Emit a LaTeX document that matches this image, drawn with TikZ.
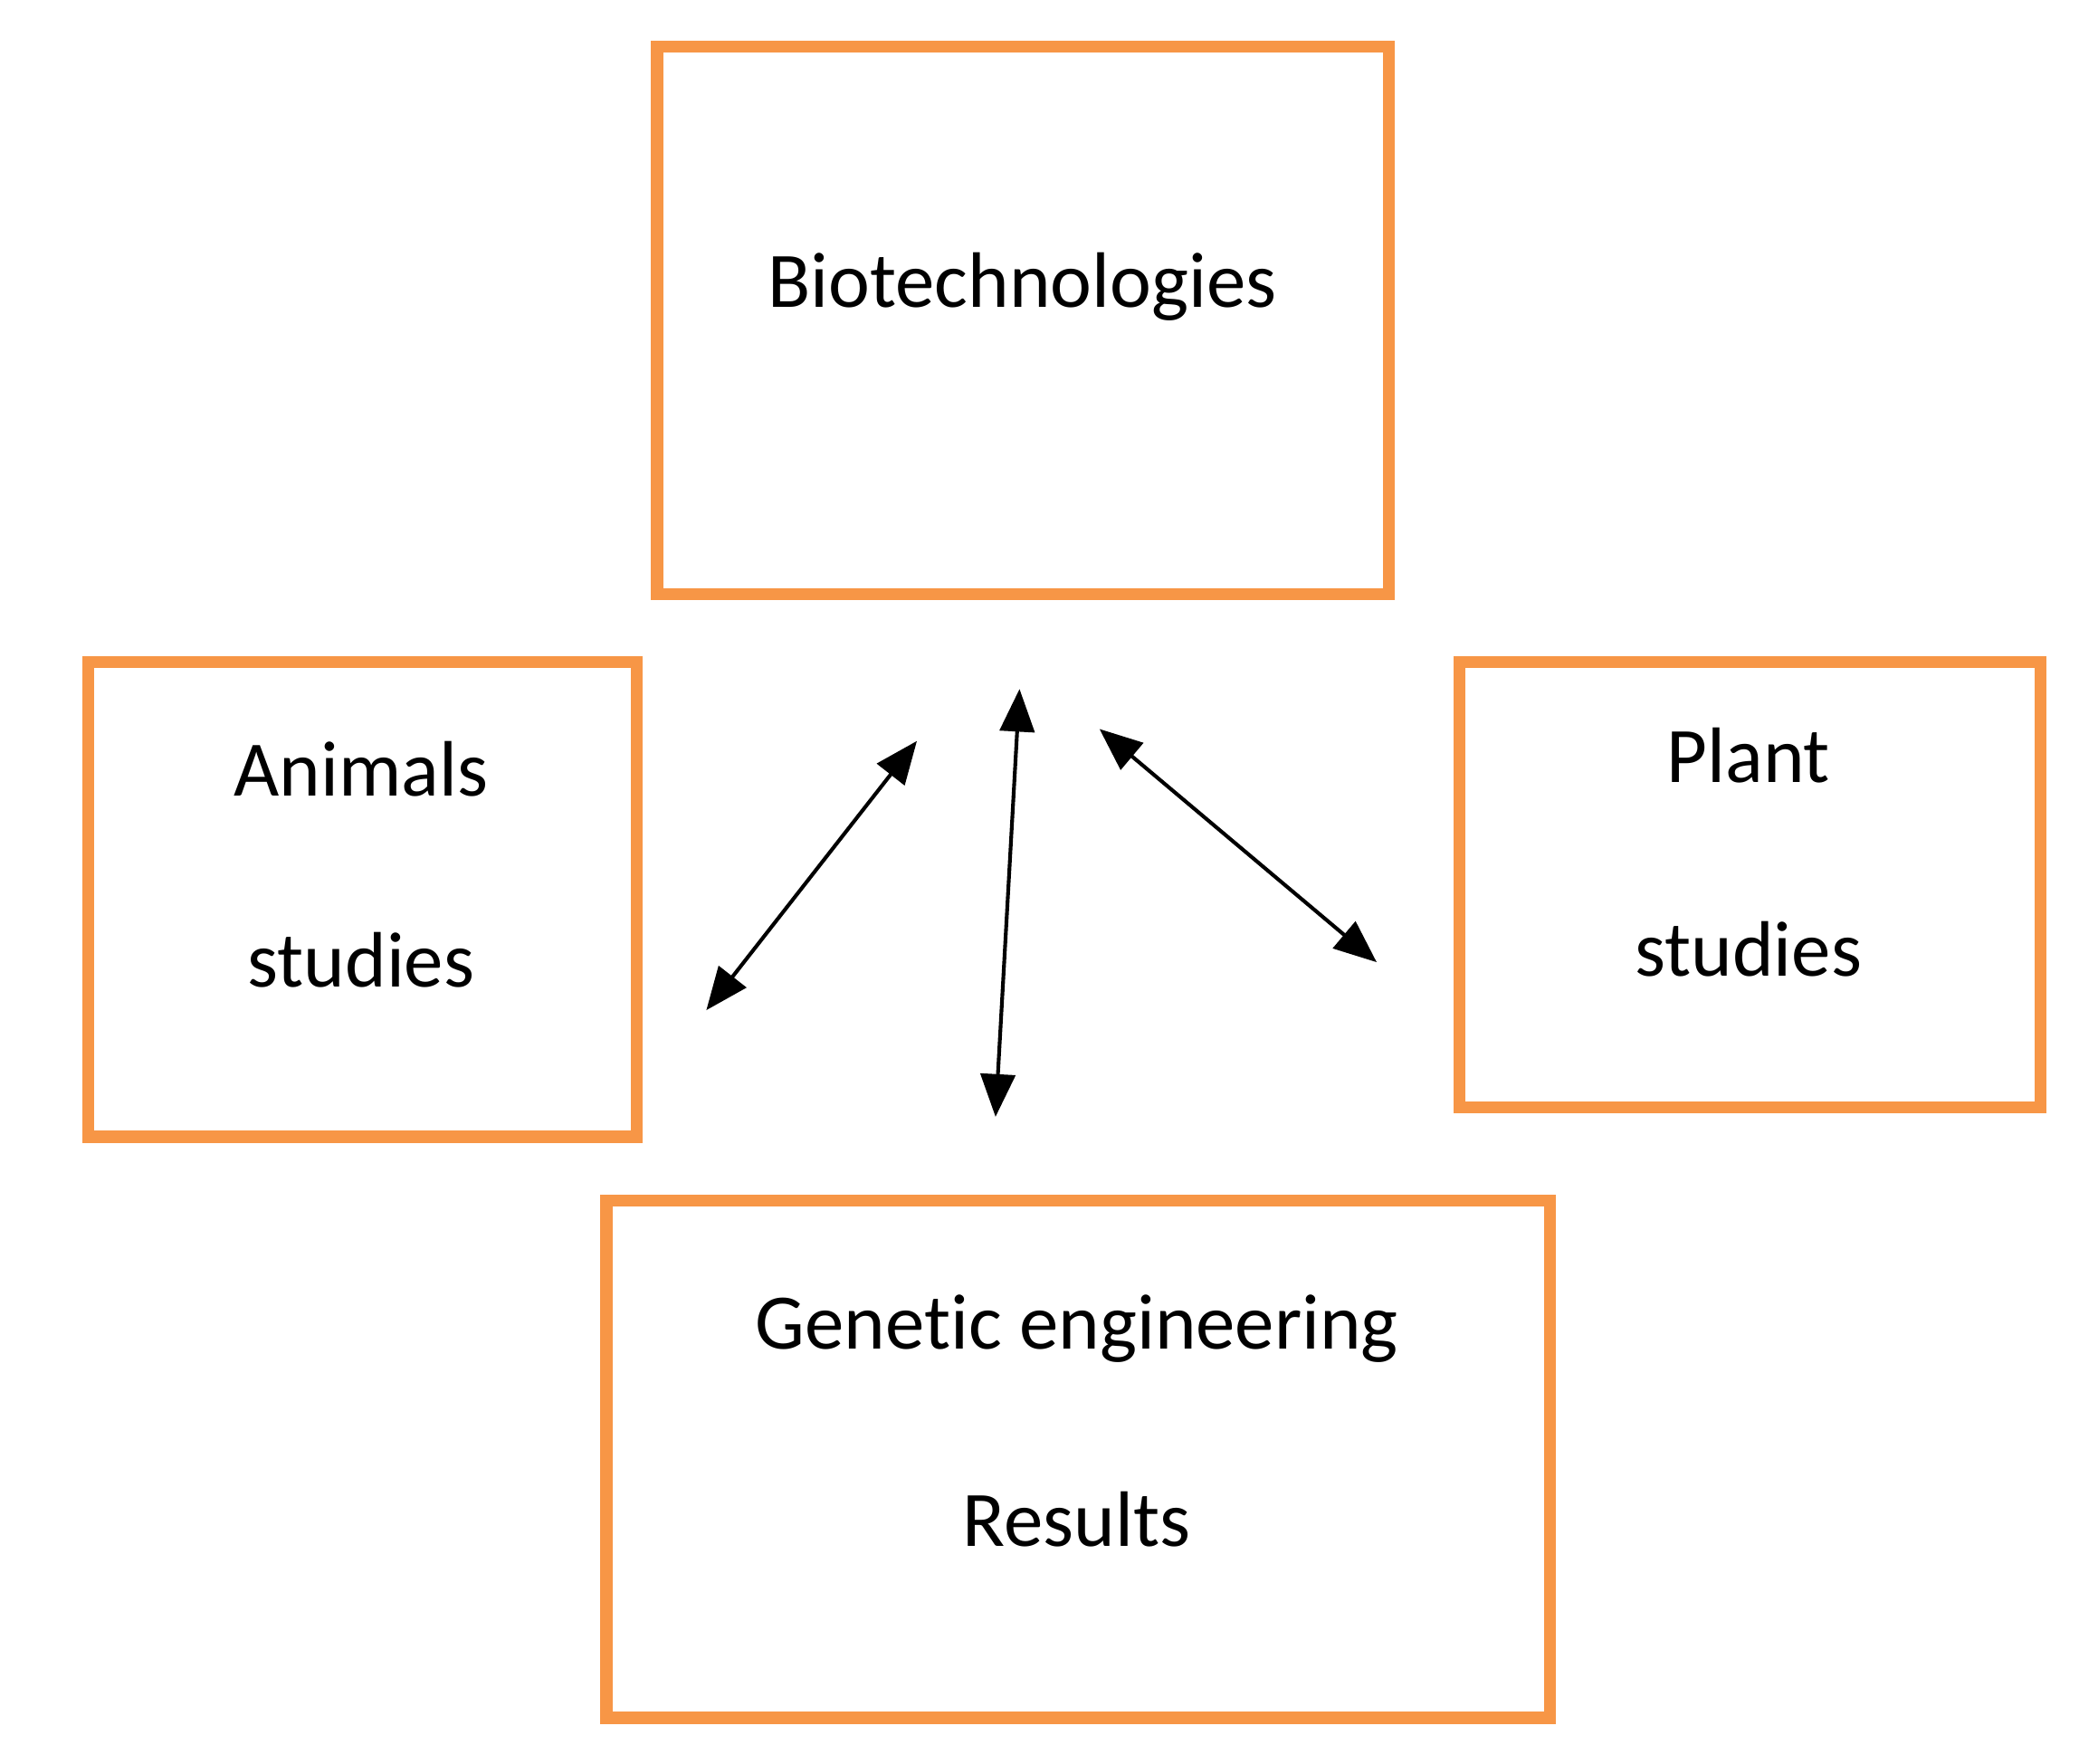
\documentclass[tikz,border=0pt]{standalone}
\usepackage{fontspec}
\setmainfont[RawFeature=-liga]{Carlito}
\usetikzlibrary{arrows.meta}
\definecolor{boxor}{HTML}{F79646}
\begin{document}
\begin{tikzpicture}[x=1pt,y=-1pt,
  box/.style={draw=boxor,line width=9pt},
  lbl/.style={font=\fontsize{59}{68}\selectfont,anchor=center},
  arr/.style={line width=2.8pt,{Triangle[length=32pt,width=26pt]}-{Triangle[length=32pt,width=26pt]}}]
\useasboundingbox (0,0) rectangle (1560,1323);
\draw[box] (493,35) rectangle (1042,446);
\draw[box] (66,497) rectangle (478,853);
\draw[box] (1095,497) rectangle (1531,831);
\draw[box] (455,901) rectangle (1163,1289);
\node[lbl] (bio) at (767,215) {Biotechnologies};
\node[lbl] (an1) at (271,577) {Animals};
\node[lbl] (an2) at (271,720) {studies};
\node[lbl] (pl1) at (1312,567) {Plant};
\node[lbl] (pl2) at (1312,712) {studies};
\node[lbl] (ge1) at (808,997) {Genetic engineering};
\node[lbl] (ge2) at (808,1140) {Results};
\coordinate (a1) at (530,758); \coordinate (a2) at (688,556);
\coordinate (b1) at (765,517); \coordinate (b2) at (747,838);
\coordinate (c1) at (825,547); \coordinate (c2) at (1033,722);
\draw[arr] (a1) -- (a2);
\draw[arr] (b1) -- (b2);
\draw[arr] (c1) -- (c2);
\end{tikzpicture}
\end{document}
